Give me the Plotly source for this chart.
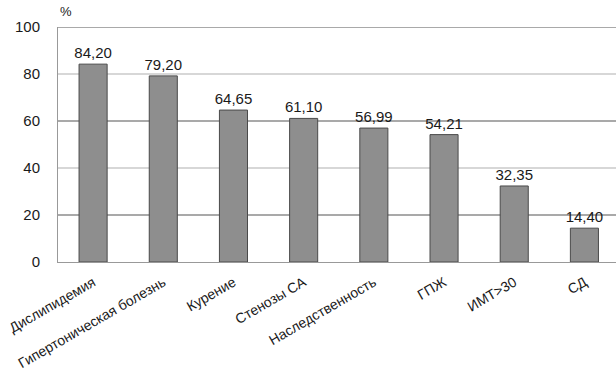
import plotly.graph_objects as go

categories = ["Дислипидемия", "Гипертоническая болезнь", "Курение", "Стенозы СА",
              "Наследственность", "ГПЖ", "ИМТ>30", "СД"]
values = [84.20, 79.20, 64.65, 61.10, 56.99, 54.21, 32.35, 14.40]
value_labels = ["84,20", "79,20", "64,65", "61,10", "56,99", "54,21", "32,35", "14,40"]
y_ticks = [0, 20, 40, 60, 80, 100]

font = "Liberation Sans, Arial, sans-serif"

fig = go.Figure()
fig.add_trace(go.Bar(
    x=categories, y=values, text=value_labels, textposition="outside",
    textfont=dict(size=15, color="#1a1a1a", family=font),
    constraintext="none",
    marker=dict(color="#8e8e8e", line=dict(color="#4a4a4a", width=1)),
    width=0.4, cliponaxis=False,
))

# horizontal reference lines, alternating tone
grid_colors = {20: "#555", 40: "#b0b0b0", 60: "#555", 80: "#b0b0b0", 100: "#555"}
for v, c in grid_colors.items():
    fig.add_shape(type="line", xref="paper", x0=0, x1=1, yref="y", y0=v, y1=v,
                  line=dict(color=c, width=1.2), layer="below")

fig.add_annotation(text="%", xref="paper", yref="paper", x=0, y=1.025,
                   xanchor="left", yanchor="bottom", showarrow=False,
                   font=dict(size=13, color="#1a1a1a", family=font))

fig.update_layout(
    width=616, height=383,
    margin=dict(l=58, r=0, t=27, b=121),
    plot_bgcolor="white", paper_bgcolor="white",
    showlegend=False,
    font=dict(family=font, color="#1a1a1a"),
)
fig.update_xaxes(range=[-0.5, 7.45], tickangle=-30, tickfont=dict(size=14),
                 showline=True, linecolor="#999", linewidth=1, ticks="",
                 ticklabelstandoff=6)
fig.update_yaxes(range=[0, 100], tickvals=y_ticks, tickfont=dict(size=15),
                 showgrid=False, zeroline=False, showline=True, linecolor="#999",
                 linewidth=1, ticks="", ticklabelstandoff=14)

fig.write_html("out.html")
